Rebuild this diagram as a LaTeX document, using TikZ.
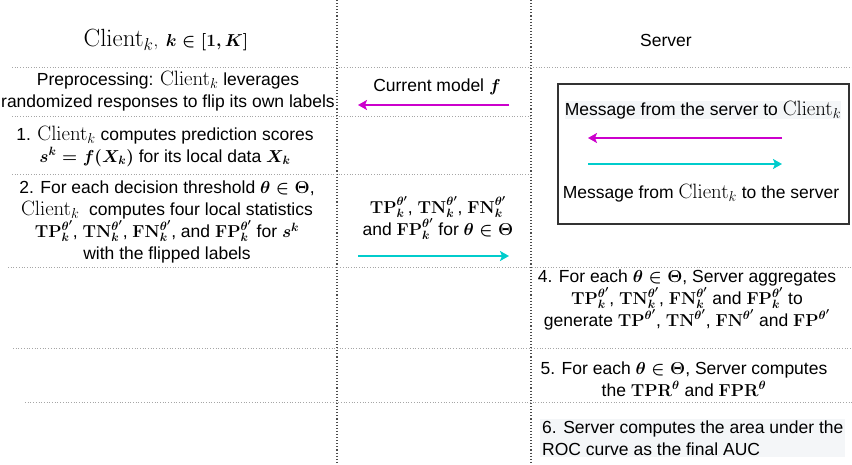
\documentclass[tikz,border=0pt]{standalone}
\usepackage{amsmath}
\usepackage[no-math]{fontspec}
\setmainfont{Liberation Sans}
\usetikzlibrary{arrows.meta}

\definecolor{tomagenta}{RGB}{204,0,204}
\definecolor{tocyan}{RGB}{0,204,204}
\definecolor{shade}{RGB}{244,246,248}

\newcommand{\client}[1][21]{\text{\fontsize{#1}{#1}\selectfont$\mathrm{Client}_k$}}
\newcommand{\loc}[1]{\mathbf{#1}^{\boldsymbol{\theta'}}_{\boldsymbol{k}}}
\newcommand{\glob}[1]{\mathbf{#1}^{\boldsymbol{\theta'}}}

\begin{document}
\begin{tikzpicture}[x=1pt,y=-1pt,
    txt/.style={align=center, inner sep=0pt, font=\fontsize{17.5}{22}\selectfont},
    grid/.style={gray!70, dotted, line width=0.7pt},
    colsep/.style={black!70, dotted, line width=1.1pt},
    todown/.style={tomagenta, line width=2pt, -{Stealth[length=9pt,width=10pt,inset=2pt]}},
    toup/.style={tocyan, line width=2pt, -{Stealth[length=9pt,width=10pt,inset=2pt]}}]
    \useasboundingbox (0,0) rectangle (852,465);
    % columns and rows
    \draw[colsep] (337,0) -- (337,465);
    \draw[colsep] (531,0) -- (531,465);
    \draw[grid] (12,67) -- (852,67);
    \draw[grid] (12,116) -- (531,116);
    \draw[grid] (12,174) -- (531,174);
    \draw[grid] (8,267) -- (852,267);
    \draw[grid] (13,348) -- (852,348);
    \draw[grid] (25,402) -- (852,402);
    % client side
    \node[txt] (client) at (166,40) {$\client[25],\;\boldsymbol{k\in[1,K]}$};
    \node[txt] (prep) at (168,91) {Preprocessing: $\client$ leverages\\randomized responses to flip its own labels};
    \node[txt] (step1) at (165,146) {1. $\client$ computes prediction scores\\$\boldsymbol{s^k=f(X_k)}$ for its local data $\boldsymbol{X_k}$};
    \node[txt] (step2) at (167,222) {2. For each decision threshold $\boldsymbol{\theta\in\Theta}$,\\$\client$\ \ computes four local statistics\\$\loc{TP}$, $\loc{TN}$,\ $\loc{FN}$, and $\loc{FP}$ for $\boldsymbol{s^k}$\\with the flipped labels};
    % messages
    \node[txt] (model) at (437,87) {Current model $\boldsymbol{f}$};
    \coordinate (down-from) at (509,105);
    \coordinate (down-to) at (358,105);
    \draw[todown] (down-from) -- (down-to);
    \node[txt] (stats) at (438,218) {$\loc{TP}$, $\loc{TN}$,\ $\loc{FN}$\\and $\loc{FP}$ for $\boldsymbol{\theta\in\Theta}$};
    \coordinate (up-from) at (358,256);
    \coordinate (up-to) at (509,256);
    \draw[toup] (up-from) -- (up-to);
    % server side
    \node[txt] (server) at (666,40) {Server};
    \node[draw=black!80, line width=1.2pt, minimum width=291pt, minimum height=140pt] (legend) at (703.5,154) {};
    \node[txt, fill=shade] (leg-down) at (703,110) {Message from the server to $\client$};
    \coordinate (leg-down-from) at (782,138);
    \coordinate (leg-down-to) at (588,138);
    \draw[todown] (leg-down-from) -- (leg-down-to);
    \coordinate (leg-up-from) at (588,164);
    \coordinate (leg-up-to) at (782,164);
    \draw[toup] (leg-up-from) -- (leg-up-to);
    \node[txt] (leg-up) at (701,193) {Message from $\client$ to the server};
    \node[txt] (step4) at (687,300) {4. For each $\boldsymbol{\theta\in\Theta}$, Server aggregates\\$\loc{TP}$, $\loc{TN}$,\ $\loc{FN}$ and $\loc{FP}$ to\\generate $\glob{TP}$, $\glob{TN}$,\ $\glob{FN}$ and $\glob{FP}$};
    \node[txt] (step5) at (684,379) {5. For each $\boldsymbol{\theta\in\Theta}$, Server computes\\the $\mathbf{TPR}^{\boldsymbol{\theta}}$ and $\mathbf{FPR}^{\boldsymbol{\theta}}$};
    \node[txt, align=left, anchor=west, fill=shade, inner sep=2pt] (step6) at (540,438) {6. Server computes the area under the\\ROC curve as the final AUC};
\end{tikzpicture}
\end{document}
